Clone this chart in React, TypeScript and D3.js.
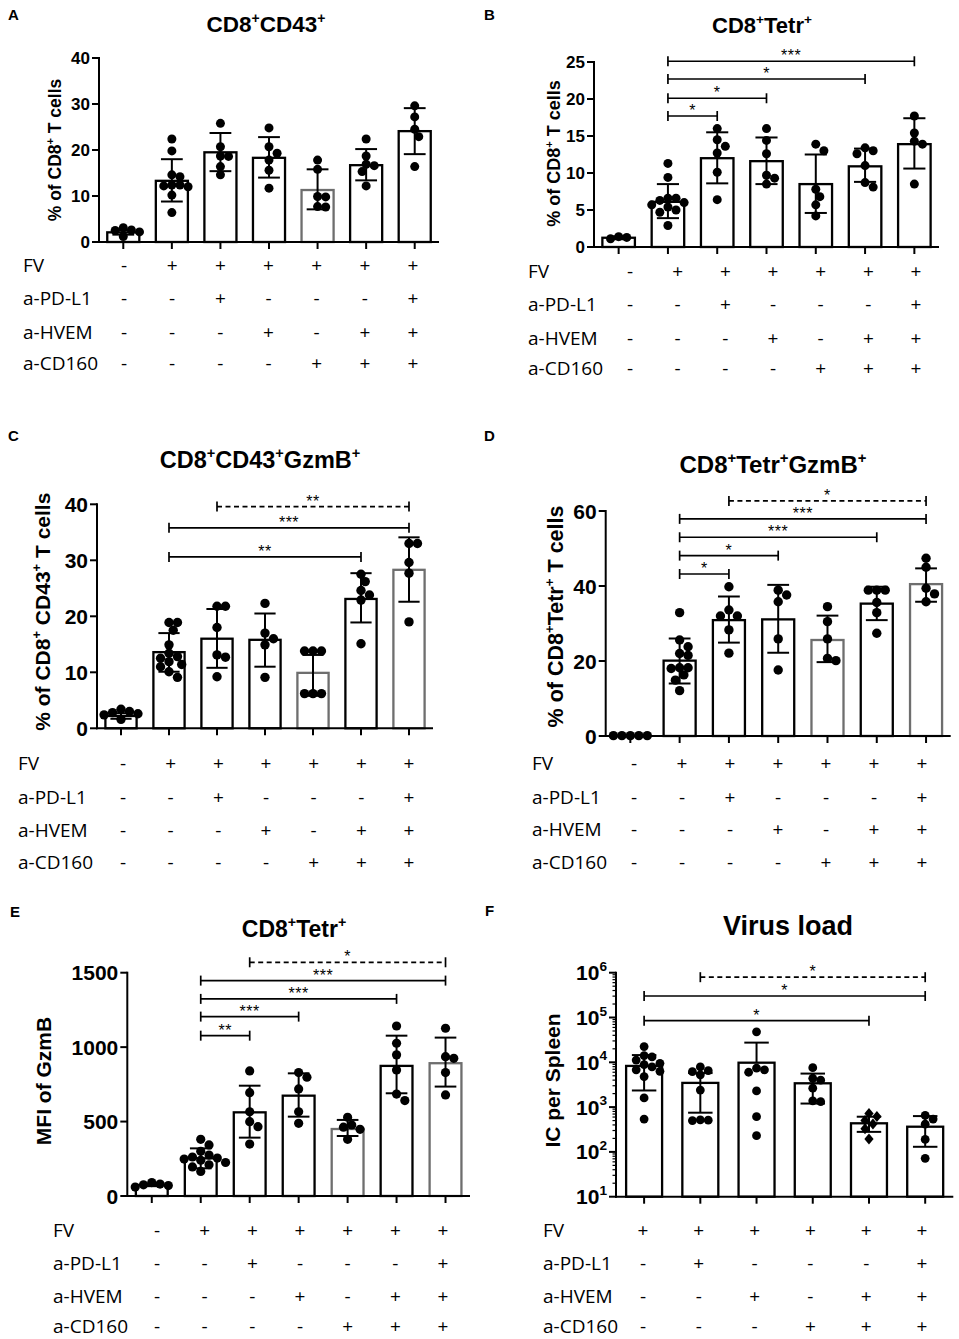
import React from "react";
import * as d3 from "d3";

// ---------- shared categorical data ----------
const CONDITIONS = ["FV", "a-PD-L1", "a-HVEM", "a-CD160"];
const SIGNS_7 = [
  ["-", "+", "+", "+", "+", "+", "+"],
  ["-", "-", "+", "-", "-", "-", "+"],
  ["-", "-", "-", "+", "-", "+", "+"],
  ["-", "-", "-", "-", "+", "+", "+"],
];
const SIGNS_6 = [
  ["+", "+", "+", "+", "+", "+"],
  ["-", "+", "-", "-", "-", "+"],
  ["-", "-", "+", "-", "+", "+"],
  ["-", "-", "-", "+", "+", "+"],
];

// ---------- Panel A: CD8+CD43+ ----------
const A_MEAN = [2.1, 13.3, 19.5, 18.3, 11.3, 16.7, 24.1];
const A_HIGH = [2.6, 18.0, 23.7, 22.8, 15.8, 20.2, 29.1];
const A_LOW = [1.6, 8.8, 15.4, 14.0, 7.1, 13.4, 19.1];
const A_POINTS = [
  [3.1, 2.6, 2.5, 2.2, 1.2],
  [22.4, 19.8, 14.6, 14.2, 12.4, 12.2, 12.0, 12.4, 10.2, 6.4],
  [25.8, 20.7, 18.7, 18.6, 16.4, 14.6],
  [24.8, 20.7, 19.3, 17.8, 15.6, 11.7],
  [17.8, 15.8, 9.9, 9.8, 7.7, 7.6],
  [22.4, 18.7, 16.9, 16.6, 15.3, 12.2],
  [29.6, 27.2, 24.5, 22.9, 16.4],
];
const A_SIG: Sig[] = [];

// ---------- Panel B: CD8+Tetr+ ----------
const B_MEAN = [1.25, 6.1, 12.0, 11.6, 8.5, 10.9, 13.9];
const B_HIGH = [1.45, 8.5, 15.5, 14.8, 12.5, 13.3, 17.4];
const B_LOW = [1.05, 3.9, 8.6, 8.5, 4.6, 8.8, 10.6];
const B_POINTS = [
  [1.4, 1.3, 1.1],
  [11.3, 9.4, 6.6, 6.6, 6.3, 6.0, 5.7, 5.4, 5.0, 4.7, 2.9],
  [16.0, 14.5, 13.6, 12.7, 10.1, 6.4],
  [16.0, 14.4, 12.6, 9.7, 9.3, 8.5],
  [13.9, 13.0, 7.8, 6.8, 5.7, 4.2],
  [13.4, 13.0, 12.6, 11.0, 8.7, 8.1],
  [17.7, 15.4, 14.3, 13.9, 8.5],
];
const B_SIG: Sig[] = [
  { from: 1, to: 2, level: 17.7, label: "*" },
  { from: 1, to: 3, level: 20.1, label: "*" },
  { from: 1, to: 5, level: 22.7, label: "*" },
  { from: 1, to: 6, level: 25.1, label: "***" },
];

// ---------- Panel C: CD8+CD43+GzmB+ ----------
const C_MEAN = [2.2, 13.6, 16.0, 15.8, 9.9, 23.1, 28.3];
const C_HIGH = [2.7, 17.0, 21.3, 20.5, 13.1, 27.7, 34.1];
const C_LOW = [1.7, 10.1, 10.8, 11.0, 5.8, 18.9, 22.6];
const C_POINTS = [
  [3.4, 3.0, 2.8, 2.6, 2.4, 1.6],
  [18.9, 18.9, 17.5, 14.9, 13.4, 12.8, 12.5, 11.9, 11.4, 11.0, 10.1, 9.1],
  [21.8, 21.8, 18.0, 13.1, 12.7, 9.2],
  [22.3, 17.0, 16.0, 14.9, 9.1],
  [13.8, 13.8, 13.8, 6.2, 6.2, 6.2],
  [27.5, 26.2, 24.6, 23.8, 22.9, 15.1],
  [33.0, 33.0, 29.6, 27.7, 19.0],
];
const C_SIG: Sig[] = [
  { from: 1, to: 5, level: 30.6, label: "**" },
  { from: 1, to: 6, level: 35.8, label: "***" },
  { from: 2, to: 6, level: 39.6, label: "**", dashed: true },
];

// ---------- Panel D: CD8+Tetr+GzmB+ ----------
const D_MEAN = [0, 20.1, 30.9, 31.1, 25.6, 35.3, 40.5];
const D_HIGH = [0, 26.0, 37.2, 40.3, 32.1, 39.8, 44.7];
const D_LOW = [0, 14.0, 24.9, 22.2, 19.7, 30.9, 35.8];
const D_POINTS = [
  [0.1, 0.1, 0.1, 0.1, 0.1],
  [32.9, 25.6, 23.8, 22.0, 21.5, 18.2, 18.2, 18.0, 16.3, 14.9, 12.1],
  [39.8, 33.6, 32.0, 32.0, 28.3, 22.1],
  [38.9, 37.6, 35.8, 25.9, 17.6],
  [34.5, 30.5, 25.9, 20.7, 20.1],
  [38.9, 38.9, 38.9, 35.6, 32.9, 27.4],
  [47.4, 45.0, 39.4, 37.9, 35.8],
];
const D_SIG: Sig[] = [
  { from: 1, to: 2, level: 43.2, label: "*" },
  { from: 1, to: 3, level: 48.1, label: "*" },
  { from: 1, to: 5, level: 53.0, label: "***" },
  { from: 1, to: 6, level: 57.9, label: "***" },
  { from: 2, to: 6, level: 62.7, label: "*", dashed: true },
];

// ---------- Panel E: MFI of GzmB ----------
const E_MEAN = [74, 253, 562, 674, 450, 874, 892];
const E_HIGH = [82, 320, 741, 824, 511, 1077, 1064];
const E_LOW = [66, 186, 392, 533, 403, 690, 735];
const E_POINTS = [
  [90, 80, 75, 70, 60],
  [381, 343, 300, 275, 262, 255, 248, 240, 225, 210, 195, 165],
  [840, 694, 566, 499, 466, 349],
  [829, 798, 719, 566, 488],
  [529, 477, 462, 448, 381],
  [1142, 1026, 948, 847, 685, 641],
  [1127, 936, 925, 829, 679],
];
const E_SIG: Sig[] = [
  { from: 1, to: 2, level: 1077, label: "**" },
  { from: 1, to: 3, level: 1205, label: "***" },
  { from: 1, to: 5, level: 1324, label: "***" },
  { from: 1, to: 6, level: 1447, label: "***" },
  { from: 2, to: 6, level: 1570, label: "*", dashed: true },
];

// ---------- Panel F: Virus load ----------
const F_MEAN = [8300, 3470, 9800, 3400, 435, 365];
const F_HIGH = [14500, 5750, 27500, 5600, 610, 630];
const F_LOW = [2350, 750, 0, 1200, 280, 130];
const F_POINTS = [
  [22400, 14100, 13200, 11200, 9500, 8900, 7900, 6800, 6300, 4800, 1600, 540],
  [7900, 6500, 6200, 5250, 2400, 520, 510, 500],
  [48000, 7400, 6800, 6000, 2300, 610, 230],
  [7600, 4400, 4000, 2650, 1380, 1320],
  [720, 620, 500, 420, 330, 195],
  [650, 540, 415, 190, 72],
];
const F_MARKERS = ["circle", "circle", "circle", "circle", "diamond", "circle"];
const F_SIG: Sig[] = [
  { from: 0, to: 4, level: 85000, label: "*" },
  { from: 0, to: 5, level: 302000, label: "*" },
  { from: 1, to: 5, level: 794000, label: "*", dashed: true },
];

type Sig = { from: number; to: number; level: number; label: string; dashed?: boolean };

const FONT_B = "'Liberation Sans', Arial, Helvetica, sans-serif";
const FONT_T = "'Open Sans', 'Liberation Sans', sans-serif";

function rich(text: string, fs: number, supScale = 0.62, shift = 0.42, supBold = true) {
  const parts = text.split(/(\^.)/).filter((p) => p.length > 0);
  let pending = 0;
  return parts.map((p, i) => {
    if (p.startsWith("^")) {
      const el = (
        <tspan key={i} dy={-shift * fs} fontSize={fs * supScale} fontWeight={supBold ? "bold" : "normal"}>
          {p.slice(1)}
        </tspan>
      );
      pending += shift * fs;
      return el;
    }
    const el = (
      <tspan key={i} dy={pending} fontSize={fs}>
        {p}
      </tspan>
    );
    pending = 0;
    return el;
  });
}

function dodge(ys: number[], r: number): number[] {
  const order = d3.range(ys.length).sort((a, b) => ys[a] - ys[b]);
  const placed: { x: number; y: number }[] = [];
  const out = new Array(ys.length).fill(0);
  const step = r * 0.9;
  const minD = r * 1.75;
  for (const i of order) {
    const y = ys[i];
    let chosen = 0;
    for (let k = 0; k < 30; k++) {
      const cands = k === 0 ? [0] : [k * step, -k * step];
      let ok = false;
      for (const c of cands) {
        if (placed.every((p) => Math.hypot(p.x - c, p.y - y) >= minD)) {
          chosen = c;
          ok = true;
          break;
        }
      }
      if (ok) break;
    }
    placed.push({ x: chosen, y });
    out[i] = chosen;
  }
  return out;
}

type Cfg = {
  x0: number; x1: number; yTop: number; yBot: number;
  domain: [number, number]; ticks: number[]; log?: boolean;
  tickFs: number; title: string; titleX: number; titleY: number; titleFs: number;
  yLabel: string; yLabelX: number; yLabelY: number; yLabelFs: number;
  letter: string; letterX: number; letterY: number;
  tableX: number; rows: number[]; cols: [number, number];
  pad: number; r: number; gray: number[];
};

function Panel(props: {
  cfg: Cfg; mean: number[]; low: number[]; high: number[]; points: number[][];
  sigs: Sig[]; signs: string[][]; markers?: string[];
}) {
  const { cfg, mean, low, high, points, sigs, signs, markers } = props;
  const n = mean.length;
  const x = d3.scaleBand<number>().domain(d3.range(n)).range([cfg.x0, cfg.x1])
    .paddingInner(cfg.pad).paddingOuter(cfg.pad / 2);
  const y: any = cfg.log
    ? d3.scaleLog().domain(cfg.domain).range([cfg.yBot, cfg.yTop])
    : d3.scaleLinear().domain(cfg.domain).range([cfg.yBot, cfg.yTop]);
  const bw = x.bandwidth();
  const cx = (i: number) => (x(i) as number) + bw / 2;
  const base = cfg.domain[0];
  const cols = d3.scalePoint<number>().domain(d3.range(n)).range(cfg.cols);
  const capW = bw * 0.68;
  const condFs = 19;

  const minorTicks: number[] = [];
  if (cfg.log) {
    const lo = Math.log10(cfg.domain[0]);
    const hi = Math.log10(cfg.domain[1]);
    for (let e = lo; e < hi; e++) for (let m = 2; m <= 9; m++) minorTicks.push(m * Math.pow(10, e));
  }

  return (
    <g>
      <text x={cfg.letterX} y={cfg.letterY} fontFamily={FONT_B} fontWeight="bold" fontSize={15}>
        {cfg.letter}
      </text>
      <text x={cfg.titleX} y={cfg.titleY} textAnchor="middle" fontFamily={FONT_B} fontWeight="bold">
        {rich(cfg.title, cfg.titleFs)}
      </text>
      <text
        transform={`translate(${cfg.yLabelX},${cfg.yLabelY}) rotate(-90)`}
        y={0.36 * cfg.yLabelFs}
        textAnchor="middle"
        fontFamily={FONT_B}
        fontWeight="bold"
      >
        {rich(cfg.yLabel, cfg.yLabelFs)}
      </text>

      {/* bars */}
      {mean.map((m, i) => {
        const top = y(Math.max(m, base));
        return (
          <rect
            key={"b" + i}
            x={x(i)}
            y={top}
            width={bw}
            height={Math.max(0, cfg.yBot - top)}
            fill="#fff"
            stroke={cfg.gray.includes(i) ? "#6e6e6e" : "#000"}
            strokeWidth={2.3}
          />
        );
      })}

      {/* error bars */}
      {mean.map((m, i) => {
        if (high[i] <= m) return null;
        const yh = y(high[i]);
        const hasLow = low[i] > base;
        const yl = hasLow ? y(low[i]) : y(m);
        const c = cx(i);
        return (
          <g key={"e" + i} stroke="#000" strokeWidth={2}>
            <line x1={c} x2={c} y1={yh} y2={yl} />
            <line x1={c - capW / 2} x2={c + capW / 2} y1={yh} y2={yh} />
            {hasLow && <line x1={c - capW / 2} x2={c + capW / 2} y1={yl} y2={yl} />}
          </g>
        );
      })}

      {/* points */}
      {points.map((pts, i) => {
        const ys = pts.map((v) => y(Math.max(v, base)));
        const off = dodge(ys, cfg.r);
        const shape = markers ? markers[i] : "circle";
        return (
          <g key={"p" + i} fill="#000">
            {ys.map((py, j) =>
              shape === "diamond" ? (
                <path
                  key={j}
                  d={`M${cx(i) + off[j]},${py - cfg.r * 1.25}l${cfg.r * 1.05},${cfg.r * 1.25}l${-cfg.r * 1.05},${cfg.r * 1.25}l${-cfg.r * 1.05},${-cfg.r * 1.25}z`}
                />
              ) : (
                <circle key={j} cx={cx(i) + off[j]} cy={py} r={cfg.r} />
              )
            )}
          </g>
        );
      })}

      {/* axes */}
      <g stroke="#000" strokeWidth={2}>
        <line x1={cfg.x0} x2={cfg.x0} y1={cfg.yTop - 1} y2={cfg.yBot + 1} />
        <line x1={cfg.x0 - 1} x2={cfg.x1} y1={cfg.yBot} y2={cfg.yBot} />
        {cfg.ticks.map((t) => (
          <line key={"yt" + t} x1={cfg.x0 - 7} x2={cfg.x0} y1={y(t)} y2={y(t)} />
        ))}
        {minorTicks.map((t) => (
          <line key={"mt" + t} x1={cfg.x0 - 3.5} x2={cfg.x0} y1={y(t)} y2={y(t)} strokeWidth={1.2} />
        ))}
        {d3.range(n).map((i) => (
          <line key={"xt" + i} x1={cx(i)} x2={cx(i)} y1={cfg.yBot} y2={cfg.yBot + 7} />
        ))}
      </g>
      {cfg.ticks.map((t) => (
        <text
          key={"yl" + t}
          x={cfg.x0 - 9}
          y={y(t) + 0.36 * cfg.tickFs}
          textAnchor="end"
          fontFamily={FONT_B}
          fontWeight="bold"
          fontSize={cfg.tickFs}
        >
          {cfg.log ? rich("10^" + Math.round(Math.log10(t)), cfg.tickFs, 0.65, 0.45) : d3.format("d")(t)}
        </text>
      ))}

      {/* significance brackets */}
      {sigs.map((s, k) => {
        const yy = y(s.level);
        const a = cx(s.from);
        const b = cx(s.to);
        return (
          <g key={"s" + k}>
            <g stroke="#000" strokeWidth={1.7} strokeDasharray={s.dashed ? "5,3.5" : undefined}>
              <line x1={a} x2={b} y1={yy} y2={yy} />
            </g>
            <g stroke="#000" strokeWidth={1.7}>
              <line x1={a} x2={a} y1={yy - 5} y2={yy + 5} />
              <line x1={b} x2={b} y1={yy - 5} y2={yy + 5} />
            </g>
            <text x={(a + b) / 2} y={yy} textAnchor="middle" fontFamily={FONT_B} fontSize={16} letterSpacing={0.5}>
              {s.label}
            </text>
          </g>
        );
      })}

      {/* condition table */}
      {CONDITIONS.map((c, r) => (
        <g key={"c" + r} fontFamily={FONT_T} fontSize={condFs}>
          <text x={cfg.tableX} y={cfg.rows[r] + 0.36 * condFs}>
            {c}
          </text>
          {signs[r].map((sg, i) => (
            <text key={i} x={cols(i)} y={cfg.rows[r] + 0.36 * condFs} textAnchor="middle">
              {sg}
            </text>
          ))}
        </g>
      ))}
    </g>
  );
}

const CFG_A: Cfg = {
  x0: 99, x1: 439, yTop: 58, yBot: 242, domain: [0, 40], ticks: [0, 10, 20, 30, 40],
  tickFs: 17, title: "CD8^+CD43^+", titleX: 266, titleY: 32, titleFs: 22.5,
  yLabel: "% of CD8^+ T cells", yLabelX: 55, yLabelY: 150, yLabelFs: 17.5,
  letter: "A", letterX: 8, letterY: 20, tableX: 23, rows: [265, 298, 332, 363], cols: [124, 413],
  pad: 0.34, r: 4.5, gray: [4],
};
const CFG_B: Cfg = {
  x0: 594, x1: 939, yTop: 62, yBot: 247, domain: [0, 25], ticks: [0, 5, 10, 15, 20, 25],
  tickFs: 17, title: "CD8^+Tetr^+", titleX: 762, titleY: 33, titleFs: 22,
  yLabel: "% of CD8^+ T cells", yLabelX: 554, yLabelY: 153.5, yLabelFs: 18,
  letter: "B", letterX: 484, letterY: 20, tableX: 528, rows: [270.7, 304, 337.7, 368.3], cols: [630, 916],
  pad: 0.34, r: 4.5, gray: [],
};
const CFG_C: Cfg = {
  x0: 97, x1: 433, yTop: 504.3, yBot: 728.3, domain: [0, 40], ticks: [0, 10, 20, 30, 40],
  tickFs: 21, title: "CD8^+CD43^+GzmB^+", titleX: 260, titleY: 468, titleFs: 23.5,
  yLabel: "% of CD8^+ CD43^+ T cells", yLabelX: 42, yLabelY: 611.7, yLabelFs: 21,
  letter: "C", letterX: 8, letterY: 441, tableX: 18, rows: [762.7, 796.7, 830, 861.7], cols: [123, 409],
  pad: 0.35, r: 4.7, gray: [4, 6],
};
const CFG_D: Cfg = {
  x0: 605.7, x1: 950.7, yTop: 511, yBot: 736, domain: [0, 60], ticks: [0, 20, 40, 60],
  tickFs: 21, title: "CD8^+Tetr^+GzmB^+", titleX: 773, titleY: 473, titleFs: 24,
  yLabel: "% of CD8^+Tetr^+ T cells", yLabelX: 555, yLabelY: 616.5, yLabelFs: 21.5,
  letter: "D", letterX: 484, letterY: 441, tableX: 532, rows: [762.7, 796.7, 829.3, 861.7], cols: [634, 922],
  pad: 0.35, r: 4.7, gray: [4, 6],
};
const CFG_E: Cfg = {
  x0: 127.3, x1: 470, yTop: 972.7, yBot: 1196, domain: [0, 1500], ticks: [0, 500, 1000, 1500],
  tickFs: 21, title: "CD8^+Tetr^+", titleX: 294, titleY: 937, titleFs: 23,
  yLabel: "MFI of GzmB", yLabelX: 43, yLabelY: 1081, yLabelFs: 21,
  letter: "E", letterX: 10, letterY: 917, tableX: 53, rows: [1230, 1263.5, 1296, 1326.5], cols: [157, 443],
  pad: 0.35, r: 4.6, gray: [4, 6],
};
const CFG_F: Cfg = {
  x0: 616, x1: 953.3, yTop: 972.7, yBot: 1196.7, domain: [10, 1e6], log: true,
  ticks: [10, 100, 1000, 10000, 100000, 1000000],
  tickFs: 21, title: "Virus load", titleX: 788, titleY: 935, titleFs: 27,
  yLabel: "IC per Spleen", yLabelX: 552, yLabelY: 1080.5, yLabelFs: 21,
  letter: "F", letterX: 485, letterY: 916, tableX: 543, rows: [1230, 1263.5, 1296, 1326.5], cols: [643, 922],
  pad: 0.36, r: 4.4, gray: [],
};

export default function App() {
  return (
    <svg
      width={959}
      height={1339}
      viewBox="0 0 959 1339"
      style={{ position: "absolute", left: 0, top: 0, background: "#fff" }}
    >
      <rect width={959} height={1339} fill="#fff" />
      <Panel cfg={CFG_A} mean={A_MEAN} low={A_LOW} high={A_HIGH} points={A_POINTS} sigs={A_SIG} signs={SIGNS_7} />
      <Panel cfg={CFG_B} mean={B_MEAN} low={B_LOW} high={B_HIGH} points={B_POINTS} sigs={B_SIG} signs={SIGNS_7} />
      <Panel cfg={CFG_C} mean={C_MEAN} low={C_LOW} high={C_HIGH} points={C_POINTS} sigs={C_SIG} signs={SIGNS_7} />
      <Panel cfg={CFG_D} mean={D_MEAN} low={D_LOW} high={D_HIGH} points={D_POINTS} sigs={D_SIG} signs={SIGNS_7} />
      <Panel cfg={CFG_E} mean={E_MEAN} low={E_LOW} high={E_HIGH} points={E_POINTS} sigs={E_SIG} signs={SIGNS_7} />
      <Panel
        cfg={CFG_F}
        mean={F_MEAN}
        low={F_LOW}
        high={F_HIGH}
        points={F_POINTS}
        sigs={F_SIG}
        signs={SIGNS_6}
        markers={F_MARKERS}
      />
    </svg>
  );
}
